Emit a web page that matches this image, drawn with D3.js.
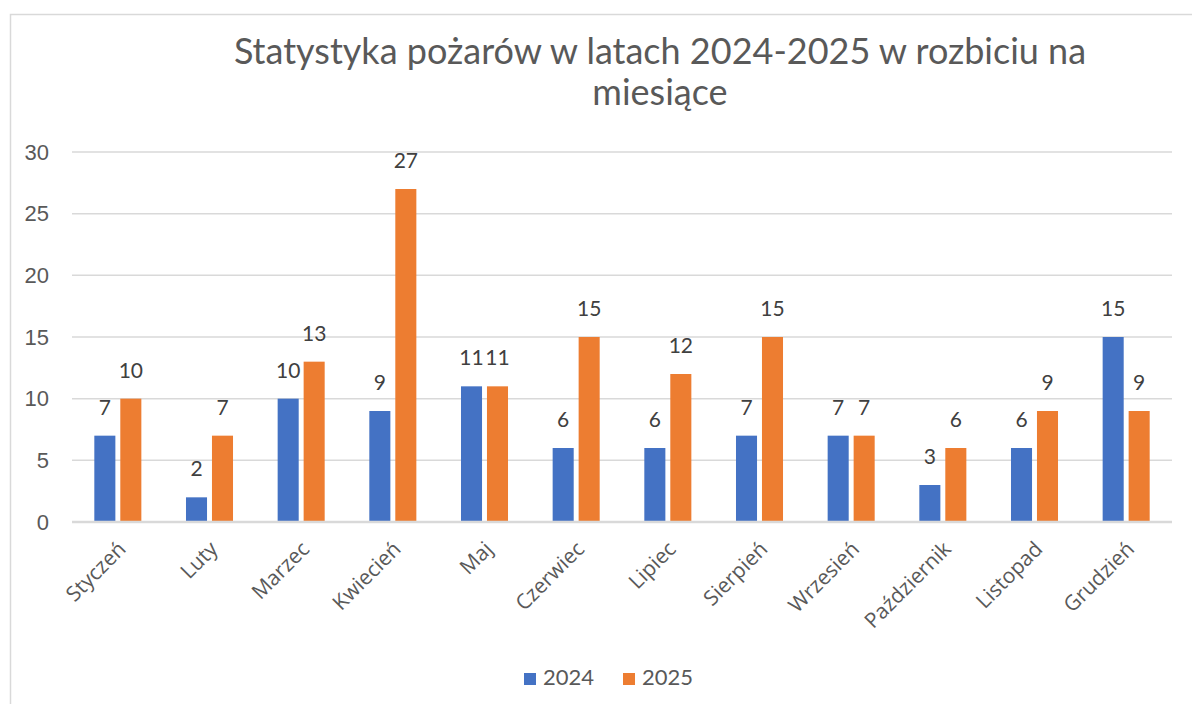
<!DOCTYPE html>
<html>
<head>
<meta charset="utf-8">
<script src="https://cdn.jsdelivr.net/npm/d3@7"></script>
<style>
  body { margin: 0; background: #fff; }
  text { font-family: Lato, "Noto Sans", sans-serif; }
</style>
</head>
<body>
<div id="chart"></div>
<script>
// Dane
const months = ["Styczeń", "Luty", "Marzec", "Kwiecień", "Maj", "Czerwiec",
  "Lipiec", "Sierpień", "Wrzesień", "Październik", "Listopad", "Grudzień"];
const series = ["2024", "2025"];
const values2024 = [7, 2, 10, 9, 11, 6, 6, 7, 7, 3, 6, 15];
const values2025 = [10, 7, 13, 27, 11, 15, 12, 15, 7, 6, 9, 9];
const yTicks = [0, 5, 10, 15, 20, 25, 30];
const colors = ["#4472C4", "#ED7D31"];

const width = 1192;
const height = 704;

const svg = d3.select("#chart")
  .append("svg")
  .attr("width", width)
  .attr("height", height);

// Ramka wykresu
svg.append("rect")
  .attr("x", 10.5)
  .attr("y", 14.5)
  .attr("width", 1200)
  .attr("height", 720)
  .style("fill", "none")
  .style("stroke", "#d9d9d9")
  .style("stroke-width", 1.5);

// Tytuł
const title = svg.append("text")
  .attr("x", 660)
  .attr("y", 64)
  .attr("text-anchor", "middle")
  .style("font-size", "36px")
  .style("fill", "#595959");
title.append("tspan").attr("x", 660).text("Statystyka pożarów w latach 2024-2025 w rozbiciu na");
title.append("tspan").attr("x", 660).attr("dy", 41).text("miesiące");

const plot = { left: 72, right: 1172, top: 152, bottom: 522 };

const y = d3.scaleLinear().domain([0, 30]).range([plot.bottom, plot.top]);

const x0 = d3.scaleBand()
  .domain(months)
  .range([plot.left, plot.right])
  .paddingInner(0.487)
  .paddingOuter(0.2435);

const x1 = d3.scaleBand()
  .domain(series)
  .range([0, x0.bandwidth()])
  .paddingInner(0.19);

// Linie siatki
svg.append("g")
  .selectAll("line")
  .data(yTicks.filter((d) => d > 0))
  .enter()
  .append("line")
  .attr("x1", plot.left)
  .attr("x2", plot.right)
  .attr("y1", (d) => y(d))
  .attr("y2", (d) => y(d))
  .style("stroke", "#d9d9d9")
  .style("stroke-width", 1.5);

// Oś Y
const yAxis = svg.append("g")
  .attr("transform", `translate(${plot.left - 23},0)`)
  .call(d3.axisLeft(y).tickValues(yTicks).tickSize(0).tickPadding(0));
yAxis.select(".domain").remove();
yAxis.selectAll("text")
  .style("font-size", "22px")
  .style("fill", "#595959")
  .style("font-family", "'Liberation Sans', Arial, sans-serif");

// Słupki
const rows = months.map((m, i) => ({ month: m, vals: [values2024[i], values2025[i]] }));

const groups = svg.append("g")
  .selectAll("g")
  .data(rows)
  .enter()
  .append("g")
  .attr("transform", (d) => `translate(${x0(d.month)},0)`);

groups.selectAll("rect")
  .data((d) => d.vals.map((v, j) => ({ key: series[j], value: v, j: j })))
  .enter()
  .append("rect")
  .attr("x", (d) => x1(d.key))
  .attr("y", (d) => y(d.value))
  .attr("width", x1.bandwidth())
  .attr("height", (d) => y(0) - y(d.value))
  .style("fill", (d) => colors[d.j]);

groups.selectAll("text")
  .data((d) => d.vals.map((v, j) => ({ key: series[j], value: v })))
  .enter()
  .append("text")
  .attr("x", (d) => x1(d.key) + x1.bandwidth() / 2)
  .attr("y", (d) => y(d.value) - 21)
  .attr("text-anchor", "middle")
  .style("font-size", "21px")
  .style("fill", "#404040")
  .text((d) => d.value);

// Oś X
svg.append("line")
  .attr("x1", plot.left)
  .attr("x2", plot.right)
  .attr("y1", y(0))
  .attr("y2", y(0))
  .style("stroke", "#d9d9d9")
  .style("stroke-width", 2.5);

const xAxis = svg.append("g")
  .attr("transform", `translate(0,${plot.bottom + 18})`)
  .call(d3.axisBottom(x0).tickSize(0).tickPadding(0));
xAxis.select(".domain").remove();
xAxis.selectAll("text")
  .attr("text-anchor", "end")
  .attr("dy", "0.7em")
  .attr("transform", "translate(-1,0) rotate(-45)")
  .style("font-size", "21px")
  .style("fill", "#595959")
  .style("font-family", "'Open Sans', sans-serif");

// Legenda
const legend = svg.append("g")
  .selectAll("g")
  .data(series)
  .enter()
  .append("g")
  .attr("transform", (d, i) => `translate(${524 + i * 99},673)`);

legend.append("rect")
  .attr("width", 12)
  .attr("height", 12)
  .style("fill", (d, i) => colors[i]);

legend.append("text")
  .attr("x", 19)
  .attr("y", 12)
  .style("font-size", "22px")
  .style("fill", "#595959")
  .text((d) => d);
</script>
</body>
</html>
